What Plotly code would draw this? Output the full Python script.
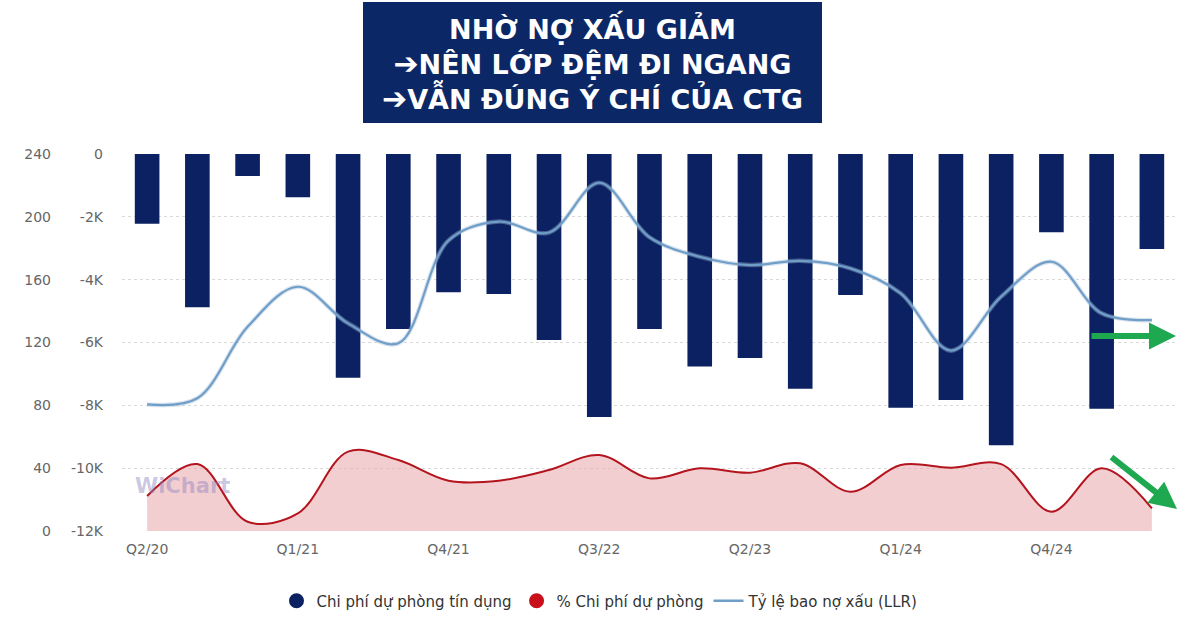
import plotly.graph_objects as go

quarters = ["Q2/20", "Q3/20", "Q4/20", "Q1/21", "Q2/21", "Q3/21", "Q4/21",
            "Q1/22", "Q2/22", "Q3/22", "Q4/22", "Q1/23", "Q2/23", "Q3/23",
            "Q4/23", "Q1/24", "Q2/24", "Q3/24", "Q4/24", "Q1/25", "Q2/25"]
tick_labels = ["Q2/20", "Q1/21", "Q4/21", "Q3/22", "Q2/23", "Q1/24", "Q4/24"]

provision_cost = [-2220, -4880, -700, -1380, -7120, -5570, -4400, -4460, -5920, -8370,
                  -5570, -6760, -6490, -7470, -4490, -8080, -7830, -9270, -2490, -8110, -3020]
provision_pct = [22.3, 42.6, 5.9, 11.2, 50.5, 45.2, 32, 32, 38.8, 48.4,
                 33.5, 39.9, 37.1, 43.1, 25, 42, 40.3, 42.6, 12.3, 39.9, 14.4]
llr = [80.6, 84.5, 130, 155.5, 132.2, 119.5, 185, 197, 190, 221.7,
       187, 174.6, 169.3, 172, 167.2, 151.3, 114.8, 149.2, 171.4, 138.6, 134.3]

bar_ticks = [0, -2000, -4000, -6000, -8000, -10000, -12000]
bar_tick_text = ["0", "-2K", "-4K", "-6K", "-8K", "-10K", "-12K"]
llr_ticks = [0, 40, 80, 120, 160, 200, 240]

title_lines = ["NHỜ NỢ XẤU GIẢM", "NÊN LỚP ĐỆM ĐI NGANG", "VẪN ĐÚNG Ý CHÍ CỦA CTG"]

NAVY = "#0b2162"
RED = "#b3141d"
BLUE = "#6f9ec9"
FONT = "DejaVu Sans"

fig = go.Figure()
fig.add_trace(go.Bar(x=quarters, y=provision_cost, marker=dict(color=NAVY, line=dict(width=0)),
                     width=0.49, name="Chi phí dự phòng tín dụng", showlegend=False, yaxis="y"))
fig.add_trace(go.Scatter(x=quarters, y=provision_pct, mode="lines", yaxis="y2",
                         line=dict(color=RED, width=2, shape="spline", smoothing=1.0),
                         fill="tozeroy", fillcolor="rgba(234,166,172,0.55)",
                         name="% Chi phí dự phòng", showlegend=False))
fig.add_trace(go.Scatter(x=quarters, y=llr, mode="lines", yaxis="y2",
                         line=dict(color="rgba(160,185,210,0.4)", width=4.5, shape="spline", smoothing=1.0),
                         hoverinfo="skip", showlegend=False))
fig.add_trace(go.Scatter(x=quarters, y=llr, mode="lines", yaxis="y2",
                         line=dict(color=BLUE, width=2.2, shape="spline", smoothing=1.0),
                         name="Tỷ lệ bao nợ xấu (LLR)", showlegend=False))

# legend entries
fig.add_trace(go.Scatter(x=[None], y=[None], mode="markers", yaxis="y2",
                         marker=dict(color=NAVY, size=15, symbol="circle"),
                         name="Chi phí dự phòng tín dụng"))
fig.add_trace(go.Scatter(x=[None], y=[None], mode="markers", yaxis="y2",
                         marker=dict(color="#c8101a", size=15, symbol="circle"),
                         name="% Chi phí dự phòng"))
fig.add_trace(go.Scatter(x=[None], y=[None], mode="lines", yaxis="y2",
                         line=dict(color=BLUE, width=2.5),
                         name="Tỷ lệ bao nợ xấu (LLR)"))

fig.update_layout(
    width=1200, height=625,
    margin=dict(l=0, r=0, t=0, b=0, autoexpand=False),
    paper_bgcolor="white", plot_bgcolor="white",
    font=dict(family=FONT, size=14, color="#666666"),
    xaxis=dict(domain=[122/1200, 1177/1200], type="category",
               categoryorder="array", categoryarray=quarters,
               tickmode="array", tickvals=tick_labels, ticktext=tick_labels,
               showgrid=False, showline=False, zeroline=False, ticks="",
               ticklabelstandoff=8,
               tickfont=dict(size=14, color="#666666"), automargin=False),
    yaxis=dict(domain=[1-531/625, 1-154/625], range=[-12000, 0],
               tickmode="array", tickvals=bar_ticks, ticktext=bar_tick_text,
               showgrid=True, gridcolor="#d9d9d9", griddash="dot", gridwidth=1,
               zeroline=False, showline=False, ticks="", ticklabelstandoff=18,
               tickfont=dict(size=14, color="#666666"), automargin=False),
    yaxis2=dict(range=[0, 240], overlaying="y", side="left", anchor="free",
                position=0.0425, tickmode="array", tickvals=llr_ticks,
                showgrid=False, zeroline=False, showline=False, ticks="",
                tickfont=dict(size=14, color="#666666"), automargin=False),
    legend=dict(orientation="h", x=0.5, xanchor="center", y=1-601/625, yanchor="middle",
                font=dict(size=15, color="#333333"), itemsizing="trace",
                bgcolor="rgba(0,0,0,0)"),
    showlegend=True,
)

# title box
fig.add_shape(type="rect", xref="paper", yref="paper",
              x0=363/1200, x1=822/1200, y0=1-123/625, y1=1-2/625,
              fillcolor="#0c2766", line=dict(width=0), layer="above")
arrow = "<span style='font-size:30px'>➔</span>"
title_text = "<br>".join([title_lines[0], arrow + title_lines[1], arrow + title_lines[2]])
fig.add_annotation(xref="paper", yref="paper", x=592/1200, y=1-63/625,
                   xanchor="center", yanchor="middle",
                   text=title_text,
                   showarrow=False, align="center",
                   font=dict(family="DejaVu Sans", size=27, color="white", weight="bold"))

# watermark
fig.add_annotation(xref="paper", yref="paper", x=182/1200, y=1-486/625,
                   xanchor="center", yanchor="middle",
                   text="<b>WiChart</b>", showarrow=False,
                   font=dict(family="DejaVu Sans", size=21, color="rgba(140,130,190,0.45)"))

# green arrows
fig.add_annotation(xref="paper", yref="paper", x=1176/1200, y=1-336/625,
                   ax=-86, ay=0, axref="pixel", ayref="pixel", text="",
                   showarrow=True, arrowhead=2, arrowsize=0.9, arrowwidth=6, arrowcolor="#1ea84f")
fig.add_annotation(xref="paper", yref="paper", x=1177/1200, y=1-509/625,
                   ax=-67, ay=-53, axref="pixel", ayref="pixel", text="",
                   showarrow=True, arrowhead=2, arrowsize=0.9, arrowwidth=6, arrowcolor="#1ea84f")

fig.write_html("out.html", config={"displayModeBar": False},
               post_script="document.body.style.margin='0px';")
